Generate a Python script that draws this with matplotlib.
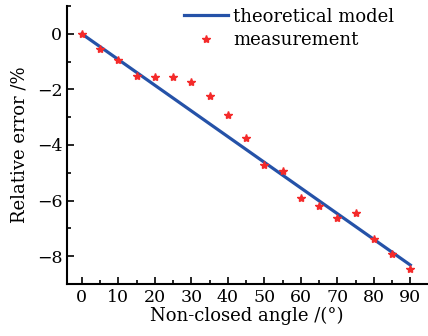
import matplotlib
matplotlib.use('Agg')
import matplotlib.pyplot as plt
import numpy as np
from matplotlib.ticker import MultipleLocator

angle = [0, 5, 10, 15, 20, 25, 30, 35, 40, 45, 50, 55, 60, 65, 70, 75, 80, 85, 90]
measured = [0, -0.55, -0.95, -1.52, -1.56, -1.57, -1.75, -2.22, -2.92, -3.76,
            -4.71, -4.94, -5.91, -6.20, -6.64, -6.44, -7.39, -7.92, -8.48]
model_x = [0, 90]
model_y = [0, -8.32]

plt.rcParams['font.family'] = 'DejaVu Serif'
plt.rcParams['mathtext.fontset'] = 'dejavuserif'

fig = plt.figure(figsize=(4.28, 3.36), dpi=100)
ax = fig.add_axes([0.157, 0.155, 0.84, 0.827])

ax.plot(model_x, model_y, color='#2552a8', lw=2.3, label='theoretical model')
ax.plot(angle, measured, ls='none', marker='*', ms=6, color='#f42a2a',
        label='measurement')

ax.set_xlim(-4, 94.5)
ax.set_ylim(-9, 1)
ax.xaxis.set_major_locator(MultipleLocator(10))
ax.xaxis.set_minor_locator(MultipleLocator(5))
ax.yaxis.set_major_locator(MultipleLocator(2))
ax.yaxis.set_minor_locator(MultipleLocator(1))
ax.tick_params(which='both', direction='in', width=1.2, labelsize=12.5)
ax.tick_params(which='major', length=5)
ax.tick_params(which='minor', length=3)
ax.spines['top'].set_visible(False)
ax.spines['right'].set_visible(False)
ax.spines['left'].set_linewidth(1.5)
ax.spines['bottom'].set_linewidth(1.5)

ax.set_xlabel('Non-closed angle /(°)', fontsize=13, labelpad=1)
ax.set_ylabel('Relative error /%', fontsize=13, labelpad=6)

ax.legend(loc='upper right', frameon=False, fontsize=13, handlelength=2.4,
          borderaxespad=0.0, labelspacing=0.3, handletextpad=0.3,
          bbox_to_anchor=(0.93, 1.02))

fig.savefig('out.png', dpi=100)
